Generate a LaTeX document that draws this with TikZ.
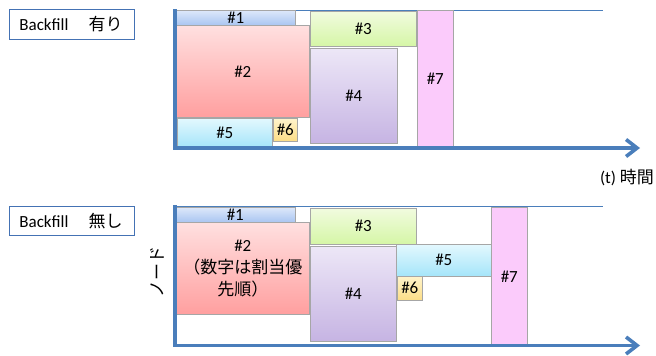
\documentclass[tikz,border=0pt]{standalone}
\usepackage{fontspec}
\setmainfont{Carlito}
\newfontfamily\jp{Noto Sans CJK JP}
\usetikzlibrary{arrows.meta,shadows}
\definecolor{cAt}{HTML}{DDE8FA}\definecolor{cAb}{HTML}{A9C5F1}
\definecolor{cBt}{HTML}{FFE0E0}\definecolor{cBb}{HTML}{FF9F9F}
\definecolor{cCt}{HTML}{F1FBDF}\definecolor{cCb}{HTML}{D5F6A6}
\definecolor{cDt}{HTML}{EDE7F7}\definecolor{cDb}{HTML}{C6B4E3}
\definecolor{cEt}{HTML}{E3F8FE}\definecolor{cEb}{HTML}{A5E5FA}
\definecolor{cFt}{HTML}{FFF4CC}\definecolor{cFb}{HTML}{FCDD86}
\definecolor{cG}{HTML}{FBCBFB}
\definecolor{axisblue}{HTML}{4A7EBB}
\definecolor{bordergray}{HTML}{A6A6A6}
\definecolor{labelblue}{HTML}{4472B4}
\begin{document}
\begin{tikzpicture}[x=1pt,y=-1pt,
  job/.style={draw=bordergray, line width=0.6pt, inner sep=0pt, anchor=north west,
    font=\fontsize{17}{22}\selectfont, align=center,
    drop shadow={shadow xshift=0.8pt, shadow yshift=-0.8pt, opacity=0.25, fill=black}},
  jA/.style={job, top color=cAt, bottom color=cAb},
  jB/.style={job, top color=cBt, bottom color=cBb},
  jC/.style={job, top color=cCt, bottom color=cCb},
  jD/.style={job, top color=cDt, bottom color=cDb},
  jE/.style={job, top color=cEt, bottom color=cEb},
  jF/.style={job, top color=cFt, bottom color=cFb},
  jG/.style={job, fill=cG},
  tag/.style={draw=labelblue, line width=0.8pt, anchor=north west, inner xsep=10pt, inner ysep=0pt,
    minimum width=125pt, text width=105pt, align=left, font=\fontsize{17}{20}\selectfont},
  topline/.style={draw=axisblue, line width=1pt},
  axisline/.style={draw=axisblue, line width=3.6pt, line join=miter,
    -{Straight Barb[length=11pt,width=17pt]}},
  plain/.style={font=\fontsize{17}{20}\selectfont, inner sep=0pt}
]
\useasboundingbox (0,0) rectangle (656,356);

% ---------- top panel ----------
\node[tag, minimum height=30pt] (lab1) at (9,9) {Backfill\hspace{20pt}{\jp 有り}};
\coordinate (t1a) at (175,10);
\coordinate (t1b) at (603,10);
\draw[topline] (t1a) -- (t1b);

\node[jA, minimum width=119pt, minimum height=15pt] (a1) at (176,10) {\#1};
\node[jB, minimum width=133pt, minimum height=92pt] (a2) at (176,25) {\#2};
\node[jE, minimum width=95pt, minimum height=29pt] (a5) at (177,118) {\#5};
\node[jF, minimum width=24pt, minimum height=23pt] (a6) at (273,118) {\#6};
\node[jC, minimum width=106pt, minimum height=35pt] (a3) at (310,11) {\#3};
\node[jD, minimum width=87pt, minimum height=95pt] (a4) at (310,48) {\#4};
\node[jG, minimum width=36pt, minimum height=137pt] (a7) at (417,10) {\#7};

\coordinate (o1top) at (175,9);
\coordinate (o1) at (175,148);
\coordinate (o1end) at (640,148);
\draw[axisline] (o1top) -- (o1) -- (o1end);
\node[plain] (time) at (627,178) {(t) {\jp 時間}};

% ---------- bottom panel ----------
\node[tag, minimum height=29pt] (lab2) at (9,206) {Backfill\hspace{20pt}{\jp 無し}};
\coordinate (t2a) at (175,206);
\coordinate (t2b) at (603,206);
\draw[topline] (t2a) -- (t2b);

\node[jA, minimum width=120pt, minimum height=15pt] (b1) at (175,207) {\#1};
\node[jB, minimum width=133pt, minimum height=92pt] (b2) at (176,222)
  {\#2\\{\jp （数字は割当優}\\{\jp 先順）}};
\node[jC, minimum width=106pt, minimum height=36pt] (b3) at (310,208) {\#3};
\node[jD, minimum width=86pt, minimum height=95pt] (b4) at (310,246) {\#4};
\node[jE, minimum width=95pt, minimum height=32pt] (b5) at (396,244) {\#5};
\node[jF, minimum width=25pt, minimum height=24pt] (b6) at (397,276) {\#6};
\node[jG, minimum width=36pt, minimum height=138pt] (b7) at (491,207) {\#7};

\coordinate (o2top) at (175,205);
\coordinate (o2) at (175,345.5);
\coordinate (o2end) at (640,345.5);
\draw[axisline] (o2top) -- (o2) -- (o2end);
\node[plain, rotate=90] (nodeaxis) at (157,272) {\jp ノード};
\end{tikzpicture}
\end{document}
